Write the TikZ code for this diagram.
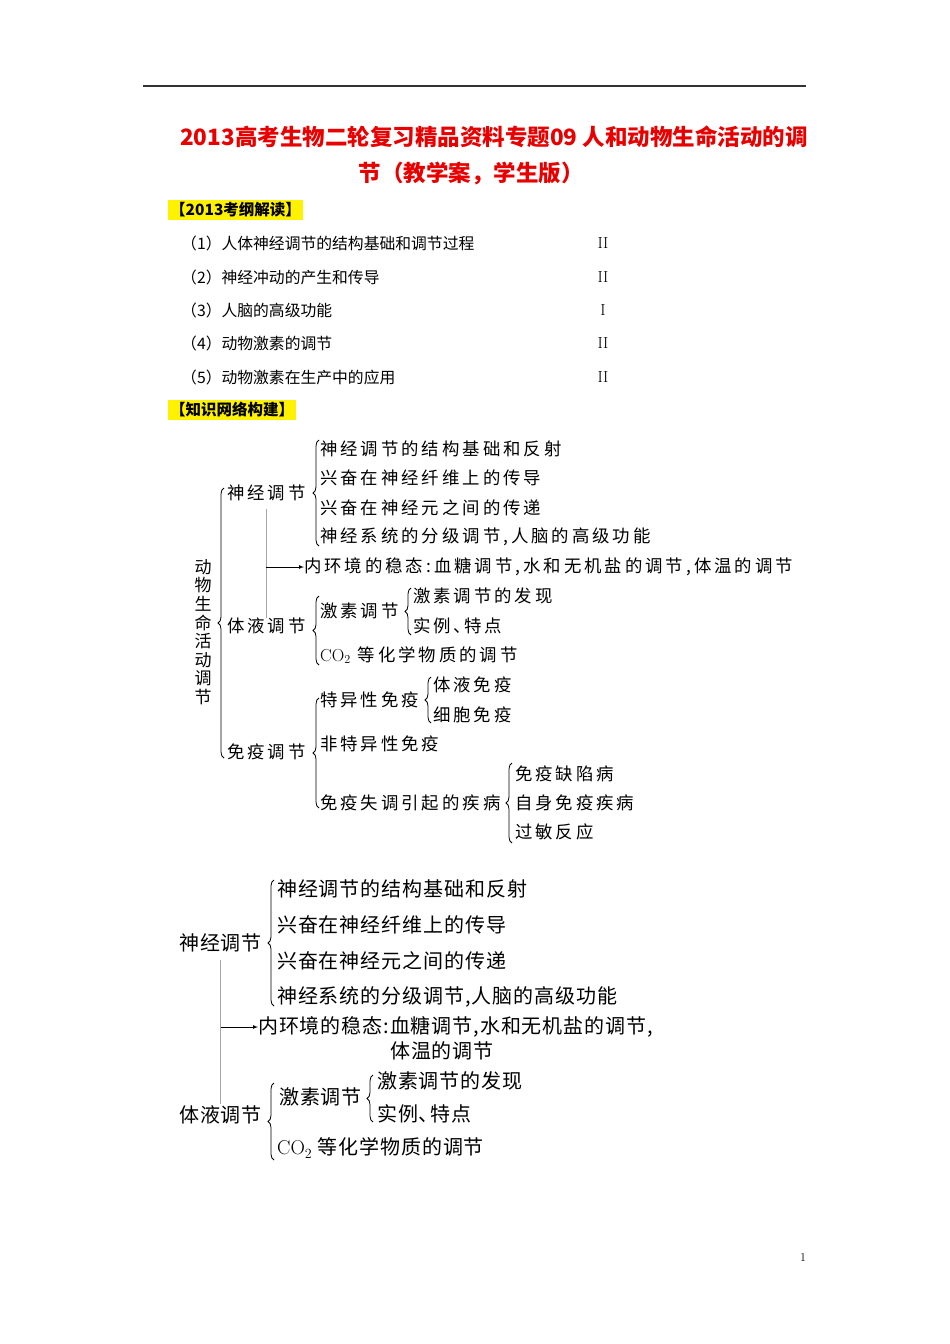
\documentclass[tikz,border=0pt]{standalone}
\usepackage{fontspec}
\newfontfamily\cjk{Noto Sans CJK SC}
\newfontfamily\cjkw{Noto Sans CJK SC}[LetterSpace=17]
\newfontfamily\cjkv{Noto Sans CJK SC}[LetterSpace=4.5]
\usetikzlibrary{decorations.pathreplacing}
\definecolor{titlered}{RGB}{232,0,0}
\tikzset{
  >=latex,
}
\tikzstyle{every node}=[inner sep=0pt]
\tikzstyle{txt}=[anchor=west,font=\cjkw\fontsize{17.4}{17.4}\selectfont]
\tikzstyle{txtb}=[anchor=west,font=\cjkv\fontsize{20}{20}\selectfont]
\tikzstyle{brc}=[decorate,decoration={brace,amplitude=6pt},line width=0.8pt]
\tikzstyle{gline}=[gray!70,line width=0.8pt]
\tikzstyle{hl}=[anchor=west,fill=yellow,minimum height=20pt,inner xsep=2pt,font=\cjk\bfseries\fontsize{15.5}{15.5}\selectfont]
\tikzstyle{itm}=[anchor=west,font=\cjk\fontsize{15.8}{15.8}\selectfont]
\tikzstyle{rom}=[font=\rmfamily\fontsize{16}{16}\selectfont]
\newcommand{\dun}{、\kern-0.42em}

\begin{document}
\begin{tikzpicture}[x=1pt,y=-1pt]
\useasboundingbox[fill=white] (0,0) rectangle (950,1344);
% header
\draw[line width=1.6pt,gray!40!black] (143,86) -- (806,86);
\node[anchor=west,text=titlered,font=\cjk\bfseries\fontsize{22.5}{22.5}\selectfont] (title1) at (180,137) {2013高考生物二轮复习精品资料专题09 人和动物生命活动的调};
\node[text=titlered,font=\cjk\bfseries\fontsize{22.5}{22.5}\selectfont] (title2) at (471,174) {节（教学案，学生版）};

\node[hl] (kg) at (168,210) {【2013考纲解读】};
\node[itm] (k1) at (181,243) {（1）人体神经调节的结构基础和调节过程};
\node[itm] (k2) at (181,277) {（2）神经冲动的产生和传导};
\node[itm] (k3) at (181,310) {（3）人脑的高级功能};
\node[itm] (k4) at (181,343) {（4）动物激素的调节};
\node[itm] (k5) at (181,377) {（5）动物激素在生产中的应用};
\node[rom] (r1) at (603,243) {II};
\node[rom] (r2) at (603,277) {II};
\node[rom] (r3) at (603,310) {I};
\node[rom] (r4) at (603,343) {II};
\node[rom] (r5) at (603,377) {II};
\node[hl] (zs) at (168,410) {【知识网络构建】};

% first map
\node[font=\cjk\fontsize{17}{18.6}\selectfont,align=center] (root) at (203,632) {动\\物\\生\\命\\活\\动\\调\\节};
\draw[brc] (224,758) -- (224,488);

\node[txt] (sj) at (227,493) {神经调节};
\draw[brc] (319,546) -- (319,440);
\node[txt] (a1) at (320,449) {神经调节的结构基础和反射};
\node[txt] (a2) at (320,478) {兴奋在神经纤维上的传导};
\node[txt] (a3) at (320,508) {兴奋在神经元之间的传递};
\node[txt] (a4) at (320,537) {神经系统的分级调节,人脑的高级功能};

\node[txt] (nh) at (304,567) {内环境的稳态:血糖调节,水和无机盐的调节,体温的调节};

\node[txt] (ty) at (227,626) {体液调节};
\draw[brc] (319,665) -- (319,596);
\node[txt] (b1) at (320,611) {激素调节};
\draw[brc] (411,635) -- (411,588);
\node[txt] (b11) at (413,596) {激素调节的发现};
\node[txt] (b12) at (413,626) {实例\dun 特点};
\node[txt] (b2) at (320,655) {{\rmfamily CO\textsubscript{2}} 等化学物质的调节};

\node[txt] (my) at (227,752) {免疫调节};
\draw[brc] (319,808) -- (319,698);
\node[txt] (c1) at (320,700) {特异性免疫};
\draw[brc] (431,723) -- (431,677);
\node[txt] (c11) at (433,685) {体液免疫};
\node[txt] (c12) at (433,715) {细胞免疫};
\node[txt] (c2) at (320,744) {非特异性免疫};
\node[txt] (c3) at (320,803) {免疫失调引起的疾病};
\draw[brc] (512,843) -- (512,763);
\node[txt] (c31) at (515,774) {免疫缺陷病};
\node[txt] (c32) at (515,803) {自身免疫疾病};
\node[txt] (c33) at (515,832) {过敏反应};

\draw[gline] ([yshift=-8pt]sj.south) -- (ty.north);
\coordinate (m1) at (sj.south |- nh.west);
\draw[->,line width=0.7pt] (m1) -- (nh.west);

% second map
\node[txtb] (sj2) at (179,943) {神经调节};
\draw[brc] (274,1006) -- (274,880);
\node[txtb] (d1) at (277,889) {神经调节的结构基础和反射};
\node[txtb] (d2) at (277,925) {兴奋在神经纤维上的传导};
\node[txtb] (d3) at (277,961) {兴奋在神经元之间的传递};
\node[txtb] (d4) at (277,997) {神经系统的分级调节,人脑的高级功能};

\node[txtb] (nh2) at (258,1027) {内环境的稳态:血糖调节,水和无机盐的调节,};
\node[txtb] (nh2b) at (390,1051) {体温的调节};

\node[txtb] (ty2) at (179,1115) {体液调节};
\draw[brc] (274,1160) -- (274,1083);
\node[txtb] (e1) at (279,1097) {激素调节};
\draw[brc] (373,1122) -- (373,1075);
\node[txtb] (e11) at (377,1081) {激素调节的发现};
\node[txtb] (e12) at (377,1114) {实例\dun 特点};
\node[txtb] (e2) at (277,1148) {{\rmfamily CO\textsubscript{2}} 等化学物质的调节};

\draw[gline] ([yshift=-8pt]sj2.south) -- ([yshift=2pt]ty2.north);
\coordinate (m2) at (sj2.south |- nh2.west);
\draw[->,line width=0.7pt] (m2) -- (nh2.west);

\node[rom,font=\rmfamily\fontsize{12}{12}\selectfont] (pg) at (803,1257) {1};
\end{tikzpicture}
\end{document}
